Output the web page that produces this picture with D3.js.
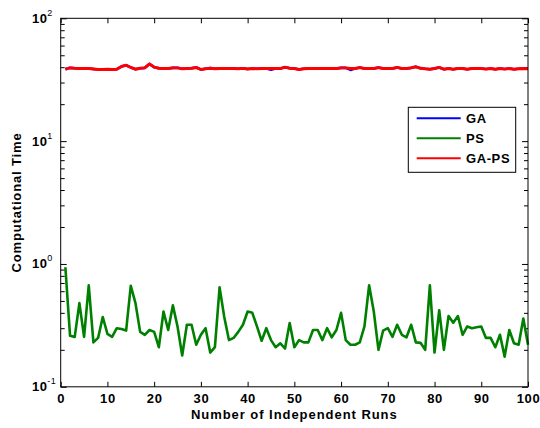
<!DOCTYPE html>
<html>
<head>
<meta charset="utf-8">
<script src="https://cdn.jsdelivr.net/npm/d3@7"></script>
<style>
  body { margin: 0; background: #fff; }
  svg text { font-family: Arial, "Liberation Sans", sans-serif; font-weight: bold; fill: #000; }
</style>
</head>
<body>
<svg id="chart"></svg>
<script>
// runs 1..100
const runs = d3.range(1, 101);

// series values
const psTime = [0.94,0.26,0.255,0.48,0.255,0.67,0.23,0.25,0.37,0.27,
  0.255,0.30,0.295,0.287,0.665,0.48,0.28,0.265,0.29,0.28,
  0.21,0.41,0.29,0.46,0.31,0.18,0.32,0.32,0.22,0.265,
  0.30,0.19,0.21,0.645,0.37,0.24,0.25,0.28,0.32,0.41,
  0.40,0.31,0.237,0.30,0.24,0.21,0.226,0.205,0.33,0.21,
  0.24,0.23,0.23,0.29,0.29,0.24,0.30,0.253,0.29,0.40,
  0.24,0.22,0.22,0.23,0.31,0.67,0.41,0.20,0.287,0.30,
  0.255,0.32,0.265,0.253,0.32,0.23,0.228,0.20,0.67,0.19,
  0.42,0.20,0.377,0.333,0.377,0.265,0.31,0.30,0.305,0.31,
  0.25,0.25,0.21,0.265,0.176,0.29,0.226,0.22,0.36,0.22];

const gapsTime = [38.5,39.5,39.2,39,39,39,38.7,38.3,38.3,38.5,
  38.3,38.5,40.5,41.5,39.8,38.5,39.2,39.5,42.5,40,
  39.2,39,39,39.5,39.5,38.8,39,39.2,39.8,38.3,
  38.8,39.3,38.8,39,39,39,39,38.8,39.1,38.7,
  39,38.8,39,39,39,39,39,40,39.2,39,
  38.3,38.8,39,39,39,39,39,39,39,39.5,
  39.5,39,39,39.7,39,39,39,39.7,39,39,
  39,39.8,39,39,39.5,40.3,39.2,38.8,38.5,39,
  39.8,38.5,39,38.5,39,39,38.5,39,39,39,
  38.6,39,38.5,39,38.6,39,38.5,38.8,39,38.8];

const gaTime = [38.5,39.5,39.2,39,39,39,38.7,38.3,38.3,38.5,
  38.3,38.5,40.5,41.5,39.8,38.5,39.2,39.5,42.5,40,
  39.2,39,39,39.5,39.5,38.8,39,39.2,39.8,38.3,
  38.8,39.3,38.8,39,39,39,39,38.8,39.1,38.7,
  39,38.8,39,39,38.2,39,39,40,39.2,39,
  38.3,38.8,39,39,39,39,39,39,39,39.5,
  39.5,38,39,39.7,39,39,39,39.7,39,39,
  39,39.8,39,39,39.5,40.3,39.2,38.8,38.5,39,
  39.8,38.5,39,38.5,39,39,38.5,39,39,39,
  38.6,39,38.5,39,38.6,39,38.5,38.8,39,38.8];

const seriesNames = ["GA", "PS", "GA-PS"];
const seriesColors = ["#0000ff", "#008000", "#ff0000"];
const xTicks = d3.range(0, 101, 10);
const yMajor = [0.1, 1, 10, 100];
const yExp = ["-1", "0", "1", "2"];

const width = 540, height = 428;
const margin = {top: 18.3, right: 12, bottom: 41.2, left: 60.7};

const svg = d3.select("#chart").attr("width", width).attr("height", height);

const x = d3.scaleLinear().domain([0, 100]).range([margin.left, width - margin.right]);
const y = d3.scaleLog().domain([0.1, 100]).range([height - margin.bottom, margin.top]);

// minor log ticks 2..9 per decade
const yMinor = [];
[0.1, 1, 10].forEach(d => { for (let k = 2; k <= 9; k++) yMinor.push(d * k); });

const x0 = margin.left, x1 = width - margin.right;
const y0 = height - margin.bottom, y1 = margin.top;

// tick marks (inside)
const tickGroups = [
  svg.append("g").attr("transform", `translate(0,${y0})`).call(d3.axisBottom(x).tickValues(xTicks).tickSizeInner(-5).tickSizeOuter(0).tickPadding(7).tickFormat(d3.format("d"))),
  svg.append("g").attr("transform", `translate(0,${y1})`).call(d3.axisTop(x).tickValues(xTicks).tickSizeInner(-5).tickSizeOuter(0).tickFormat("")),
  svg.append("g").attr("transform", `translate(${x0},0)`).call(d3.axisLeft(y).tickValues(yMajor).tickSizeInner(-6).tickSizeOuter(0).tickFormat("")),
  svg.append("g").attr("transform", `translate(${x0},0)`).call(d3.axisLeft(y).tickValues(yMinor).tickSizeInner(-4).tickSizeOuter(0).tickFormat("")),
  svg.append("g").attr("transform", `translate(${x1},0)`).call(d3.axisRight(y).tickValues(yMajor).tickSizeInner(-6).tickSizeOuter(0).tickFormat("")),
  svg.append("g").attr("transform", `translate(${x1},0)`).call(d3.axisRight(y).tickValues(yMinor).tickSizeInner(-4).tickSizeOuter(0).tickFormat(""))
];
tickGroups.forEach(g => {
  g.select(".domain").remove();
  g.selectAll("line").attr("stroke", "#000");
  g.selectAll("text").style("font-size", "13px").style("letter-spacing", "0.6px").attr("font-family", null);
});

// y tick labels 10^k
const yLab = svg.append("g");
yMajor.forEach((d, i) => {
  const t = yLab.append("text")
    .attr("x", 32)
    .attr("y", y(d) + 4.5)
    .style("font-size", "13px")
    .style("letter-spacing", "0.4px");
  t.append("tspan").text("10");
  t.append("tspan").attr("dy", -7).style("font-size", "9px").style("font-weight", "normal").text(yExp[i]);
});

// lines
const line = d3.line().x((d, i) => x(runs[i])).y(d => y(d));
const seriesData = [gaTime, psTime, gapsTime];
const seriesWidths = [2.6, 2.6, 2.9];
seriesData.forEach((s, i) => {
  svg.append("path")
    .datum(s)
    .attr("fill", "none")
    .attr("stroke", seriesColors[i])
    .attr("stroke-width", seriesWidths[i])
    .attr("stroke-linejoin", "round")
    .attr("d", line);
});

// axes box
svg.append("rect")
  .attr("x", x0).attr("y", y1)
  .attr("width", x1 - x0).attr("height", y0 - y1)
  .attr("fill", "none").attr("stroke", "#000").attr("stroke-width", 1);

// axis titles
svg.append("text")
  .attr("x", (x0 + x1) / 2).attr("y", 419)
  .attr("text-anchor", "middle")
  .style("font-size", "13px")
  .style("letter-spacing", "0.95px")
  .text("Number of Independent Runs");

svg.append("text")
  .attr("transform", `translate(21,${(y0 + y1) / 2}) rotate(-90)`)
  .attr("text-anchor", "middle")
  .style("font-size", "13px")
  .style("letter-spacing", "0.85px")
  .text("Computational Time");

// legend
const legend = svg.append("g").attr("transform", "translate(408.3,107.3)");
legend.append("rect")
  .attr("width", 107.4).attr("height", 65)
  .attr("fill", "#fff").attr("stroke", "#000").attr("stroke-width", 1);
seriesNames.forEach((name, i) => {
  const ly = 11 + i * 20;
  legend.append("line")
    .attr("x1", 8.4).attr("x2", 52.4)
    .attr("y1", ly).attr("y2", ly)
    .attr("stroke", seriesColors[i]).attr("stroke-width", 2);
  legend.append("text")
    .attr("x", 57.7).attr("y", ly + 4.5)
    .style("font-size", "13px")
    .style("letter-spacing", "0.6px")
    .text(name);
});
</script>
</body>
</html>
